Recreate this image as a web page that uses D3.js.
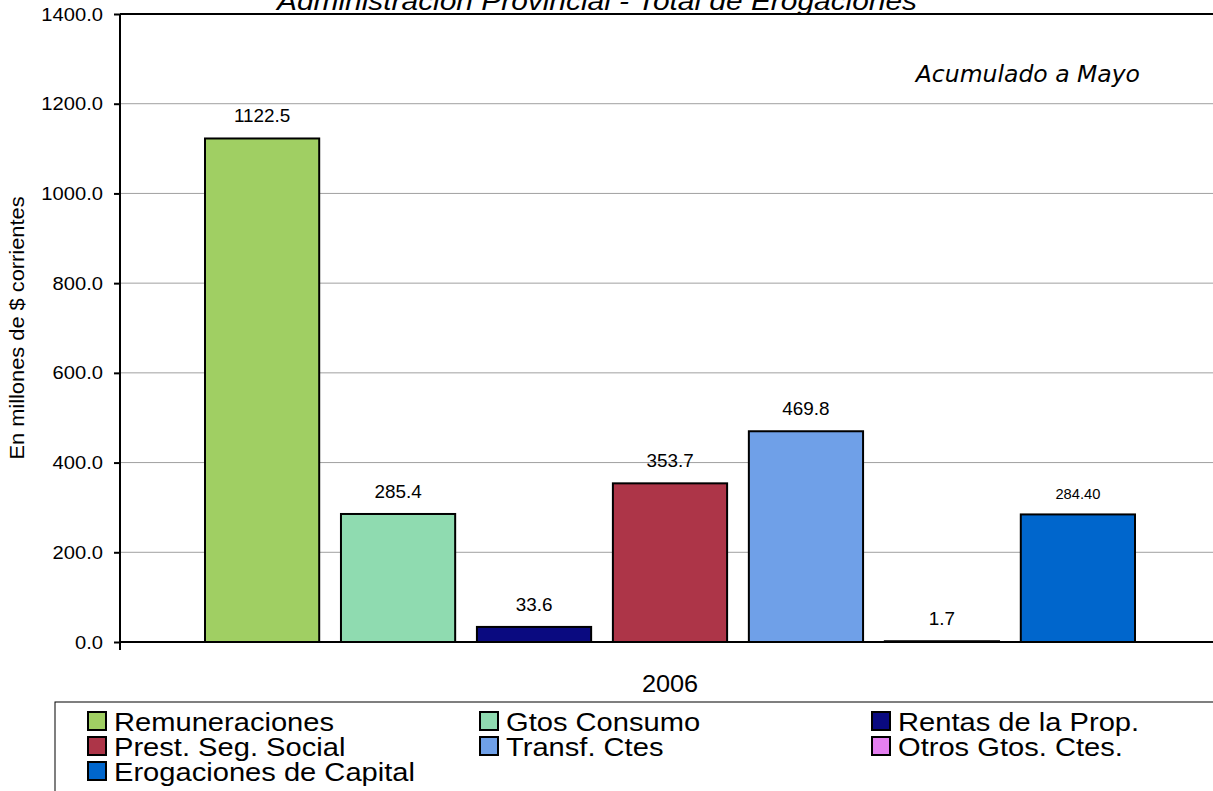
<!DOCTYPE html>
<html>
<head>
<meta charset="utf-8">
<script src="https://cdn.jsdelivr.net/npm/d3@7"></script>
<style>
  body { margin: 0; background: #fff; }
  svg { display: block; font-family: Arial, "Liberation Sans", sans-serif; }
</style>
</head>
<body>
<svg id="chart" width="1213" height="791"></svg>
<script>
// data
var categories = ["Remuneraciones", "Gtos Consumo", "Rentas de la Prop.", "Prest. Seg. Social",
                  "Transf. Ctes", "Otros Gtos. Ctes.", "Erogaciones de Capital"];
var values = [1122.5, 285.4, 33.6, 353.7, 469.8, 1.7, 284.40];
var valueLabels = ["1122.5", "285.4", "33.6", "353.7", "469.8", "1.7", "284.40"];
var colors = ["#a0cf63", "#8fdbb0", "#0a0a80", "#ad3548", "#6fa0e8", "#e47ff0", "#0066cc"];
var yTicks = [0, 200, 400, 600, 800, 1000, 1200, 1400];
var year = "2006";

var svg = d3.select("#chart");
var plotL = 120, plotR = 1220, plotT = 14, plotB = 642;
var stretch = 1.12; // the original fonts render a bit wide

var y = d3.scaleLinear().domain([0, 1400]).range([plotB, plotT]);
var xGroup = d3.scaleBand().domain([year]).range([plotL, plotR]);
var x = d3.scaleBand().domain(categories)
  .range([xGroup(year) + 85, xGroup(year) + xGroup.bandwidth() - 85])
  .paddingInner(0.16);

// gridlines
svg.append("g").selectAll("line")
  .data(yTicks.filter(d => d > 0 && d < 1400))
  .enter().append("line")
  .attr("x1", plotL).attr("x2", plotR)
  .attr("y1", d => y(d)).attr("y2", d => y(d))
  .attr("stroke", "#a0a0a0").attr("stroke-width", 1);

// plot area top border
svg.append("line")
  .attr("x1", plotL).attr("x2", plotR)
  .attr("y1", y(1400)).attr("y2", y(1400))
  .attr("stroke", "#000").attr("stroke-width", 2);

// bars
svg.append("g").selectAll("rect")
  .data(values)
  .enter().append("rect")
  .attr("x", (d, i) => x(categories[i]))
  .attr("y", d => y(d))
  .attr("width", x.bandwidth())
  .attr("height", d => plotB - y(d))
  .attr("fill", (d, i) => colors[i])
  .attr("stroke", "#000").attr("stroke-width", 2);

// value labels
svg.append("g").selectAll("text")
  .data(values)
  .enter().append("text")
  .attr("transform", (d, i) => "translate(" + (x(categories[i]) + x.bandwidth() / 2) + "," + (y(d) - (i == 6 ? 15 : 16)) + ") scale(1.05,1)")
  .attr("text-anchor", "middle")
  .attr("font-size", (d, i) => i == 6 ? "14px" : "18px")
  .attr("fill", "#000")
  .text((d, i) => valueLabels[i]);

// y axis
var yAxis = d3.axisLeft(y).tickValues(yTicks).tickFormat(d3.format(".1f")).tickSize(6).tickPadding(0);
var gy = svg.append("g").attr("transform", "translate(" + plotL + ",0)").call(yAxis);
gy.select(".domain").attr("stroke-width", 2).attr("d", "M0," + plotT + "V" + plotB);
gy.selectAll(".tick line").attr("stroke-width", 2);
gy.selectAll(".tick text")
  .attr("x", null).attr("dy", null)
  .attr("transform", "translate(-17,6) scale(" + stretch + ",1)")
  .attr("font-size", "18px").attr("fill", "#000");

// x axis
var xAxis = d3.axisBottom(xGroup).tickSize(0).tickPadding(0);
var gx = svg.append("g").attr("transform", "translate(0," + plotB + ")").call(xAxis);
gx.select(".domain").attr("stroke-width", 2).attr("d", "M" + plotL + ",0H" + plotR);
gx.selectAll(".tick text")
  .attr("y", null).attr("dy", null)
  .attr("transform", "translate(0,50) scale(1.1,1)")
  .attr("font-size", "23px").attr("fill", "#000");
svg.append("line").attr("x1", plotL).attr("x2", plotL).attr("y1", plotB).attr("y2", plotB + 8)
  .attr("stroke", "#000").attr("stroke-width", 2);

// title
svg.append("text")
  .attr("transform", "translate(597,10) scale(" + stretch + ",1)")
  .attr("text-anchor", "middle")
  .attr("font-size", "26.7px").attr("font-style", "italic")
  .text("Administración  Provincial - Total de Erogaciones");

// note
svg.append("text")
  .attr("x", 1140).attr("y", 82)
  .attr("text-anchor", "end")
  .attr("font-family", "'DejaVu Sans', sans-serif")
  .attr("font-size", "23.5px").attr("font-style", "italic")
  .text("Acumulado a Mayo");

// y axis title
svg.append("text")
  .attr("transform", "translate(24," + ((plotT + plotB) / 2) + ") rotate(-90) scale(" + stretch + ",1)")
  .attr("text-anchor", "middle")
  .attr("font-size", "19.5px")
  .text("En millones de $ corrientes");

// legend
svg.append("rect")
  .attr("x", 55).attr("y", 702).attr("width", 1200).attr("height", 120)
  .attr("fill", "#fff").attr("stroke", "#000").attr("stroke-width", 1);

var legCols = [87, 479, 871], legRows = [731, 756, 781];
var leg = svg.append("g").selectAll("g")
  .data(categories)
  .enter().append("g")
  .attr("transform", (d, i) => "translate(" + legCols[i % 3] + "," + legRows[Math.floor(i / 3)] + ")");
leg.append("rect")
  .attr("x", 1).attr("y", -19).attr("width", 18).attr("height", 18)
  .attr("fill", (d, i) => colors[i])
  .attr("stroke", "#000").attr("stroke-width", 2);
leg.append("text")
  .attr("transform", "translate(" + (27) + ",0) scale(" + stretch + ",1)")
  .attr("font-size", "26px")
  .text(d => d);
</script>
</body>
</html>
